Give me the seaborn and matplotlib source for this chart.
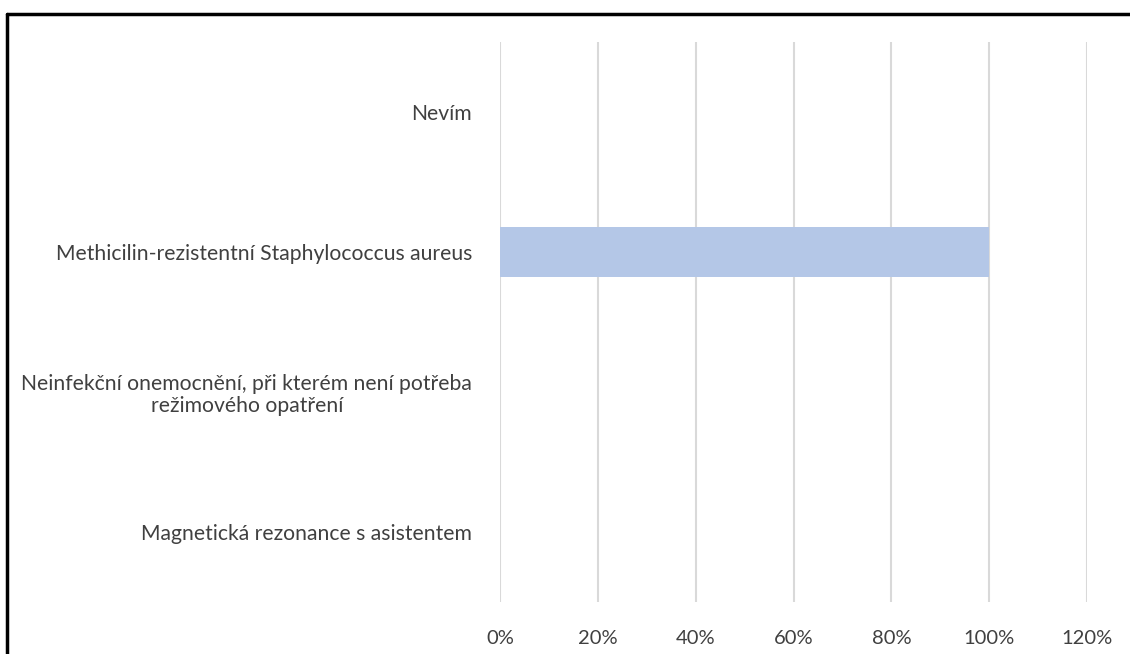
import matplotlib
matplotlib.use("Agg")
import matplotlib.pyplot as plt
import seaborn as sns
import pandas as pd
from matplotlib.lines import Line2D
from matplotlib.ticker import PercentFormatter

categories = [
    "Nevím",
    "Methicilin-rezistentní Staphylococcus aureus",
    "Neinfekční onemocnění, při kterém není potřeba\nrežimového opatření",
    "Magnetická rezonance s asistentem",
]
values = [0, 100, 0, 0]
x_ticks = [0, 20, 40, 60, 80, 100, 120]

df = pd.DataFrame({"kategorie": categories, "podil": values})

sns.set_style("white")
plt.rcParams["font.family"] = ["Lato", "DejaVu Sans"]

fig = plt.figure(figsize=(11.3, 6.54), dpi=100)
ax = fig.add_axes([0.4425, 0.0795, 0.5195, 0.8563])

sns.barplot(data=df, x="podil", y="kategorie", orient="h", color="#B4C7E7",
            saturation=1, width=0.36, linewidth=0, ax=ax, zorder=3)

ax.set_xlim(0, 120)
ax.set_xticks(x_ticks)
ax.xaxis.set_major_formatter(PercentFormatter(decimals=0))
ax.grid(axis="x", color="#D9D9D9", linewidth=1.5, zorder=0)
ax.set_axisbelow(True)
for s in ax.spines.values():
    s.set_visible(False)
ax.set_xlabel("")
ax.set_ylabel("")
ax.tick_params(axis="both", length=0, labelsize=15.2, labelcolor="#404040")
ax.tick_params(axis="y", pad=20, labelsize=15.2)
ax.tick_params(axis="x", pad=20, labelsize=14.5)
for lbl in ax.get_yticklabels():
    lbl.set_multialignment("center")
    lbl.set_linespacing(1.1)

# outer frame (only top and left visible in the crop)
fig.add_artist(Line2D([0.0058, 1.0], [0.978, 0.978], color="black", lw=2.5,
                      transform=fig.transFigure))
fig.add_artist(Line2D([0.0058, 0.0058], [0.0, 0.978], color="black", lw=2.5,
                      transform=fig.transFigure))

fig.savefig("out.png", dpi=100)
